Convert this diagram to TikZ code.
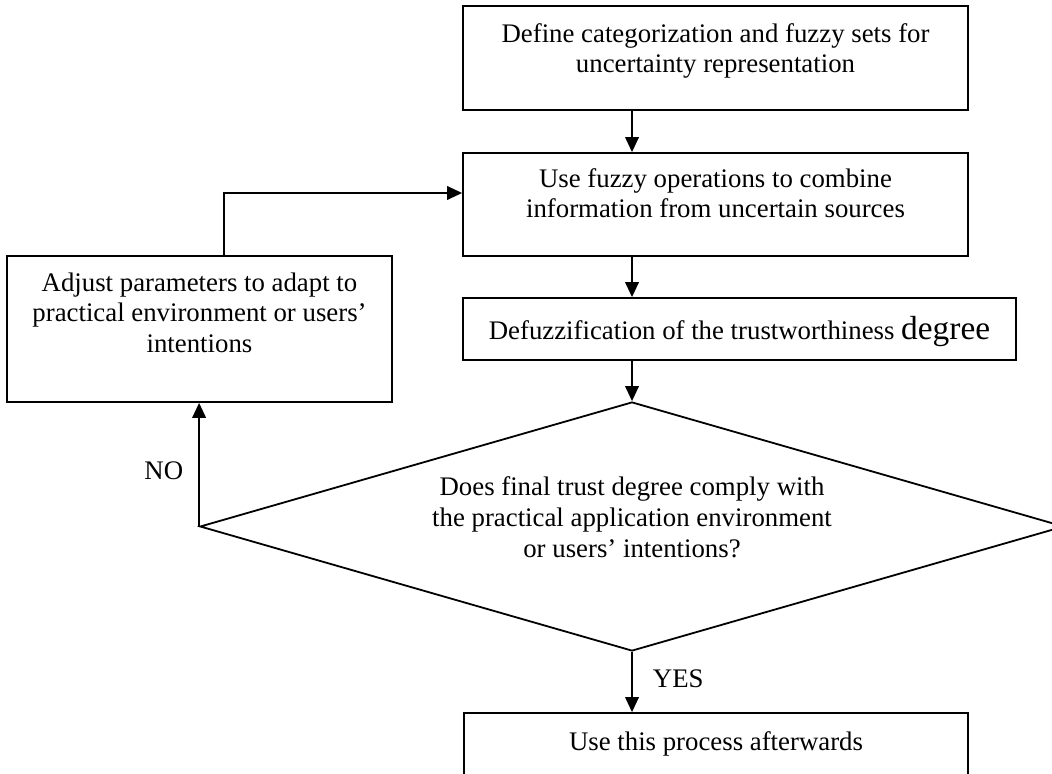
\documentclass[tikz,border=0pt]{standalone}
\usepackage{fontspec}
\setmainfont{Liberation Serif}
\usetikzlibrary{shapes.geometric}
\usetikzlibrary{arrows.meta}
\tikzset{
    stage/.style={
        rectangle,
        draw=black,
        line width=0.9pt,
        align=center,
        inner sep=0pt,
        font=\fontsize{13.4}{15}\selectfont
    },
    query/.style={
        diamond,
        draw=black,
        line width=0.9pt,
        align=center,
        aspect=3.47,
        inner sep=0pt,
        font=\fontsize{13.4}{15.5}\selectfont
    },
    flow/.style={
        draw,
        line width=0.9pt,
        -{Triangle[length=7.5pt,width=6.8pt]}
    },
    answer/.style={
        inner sep=0pt,
        font=\fontsize{13.4}{15}\selectfont
    }
}

\begin{document}
\begin{tikzpicture}[x=0.5pt,y=-0.5pt]
        \useasboundingbox (0,0) rectangle (1052,774);
        \node[stage,minimum width=252.5pt,text height=33.5pt,text depth=18.5pt] (define) at (715.5,58) {Define categorization and fuzzy sets for\\uncertainty representation};
        \node[stage,minimum width=252.5pt,text height=32.5pt,text depth=19pt] (combine) at (715.5,204.5) {Use fuzzy operations to combine\\information from uncertain sources};
        \node[stage,minimum width=276.5pt,text height=21pt,text depth=10pt] (defuzz) at (739.5,329) {Defuzzification of the trustworthiness {\fontsize{16.7}{18}\selectfont degree}};
        \node[stage,minimum width=192.5pt,text height=48pt,text depth=25pt] (adjust) at (199.5,329) {Adjust parameters to adapt to\\practical environment or users'\\intentions};
        \node[query,minimum width=432pt,minimum height=124.5pt,text height=41pt,text depth=10.5pt] (decide) at (632,526.5) {Does final trust degree comply with\\the practical application environment\\or users' intentions?};
        \node[stage,minimum width=252pt,text height=18.5pt,text depth=25pt] (final) at (716,756.5) {Use this process afterwards};

        \draw[flow] (define.south -| decide.north) -- (combine.north -| decide.north);
        \draw[flow] (combine.south -| decide.north) -- (defuzz.north -| decide.north);
        \draw[flow] (defuzz.south -| decide.north) -- (decide.north);
        \draw[flow] (decide.south) -- node[answer,right=10pt,pos=0.44] (yes) {YES} (final.north -| decide.south);
        \draw[flow] (decide.west) -- node[answer,left=7.5pt,pos=0.45] (no) {NO} (decide.west |- adjust.south);
        \draw[flow] ([xshift=12.25pt]adjust.north) |- ([yshift=5.75pt]combine.west);
    \end{tikzpicture}
\end{document}
